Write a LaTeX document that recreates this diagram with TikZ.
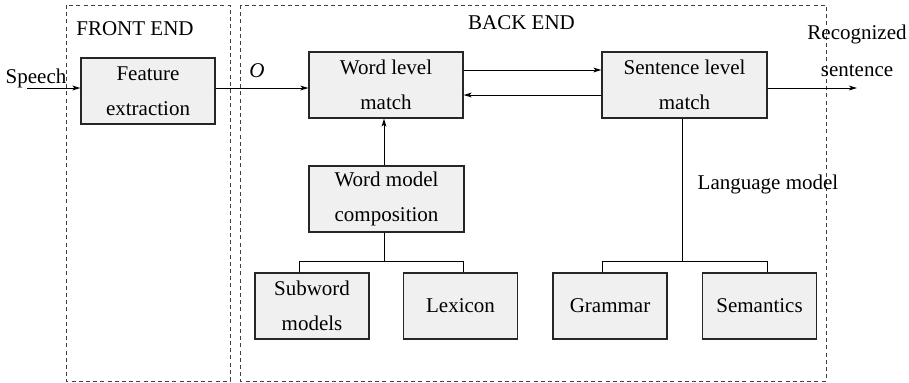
\documentclass[tikz,border=0pt]{standalone}
\usepackage{fontspec}
\setmainfont{Liberation Serif}
\usepackage{tikz}
\usetikzlibrary{arrows.meta}
\definecolor{boxgray}{gray}{0.94}
\tikzset{
  blk/.style={draw=black!85, line width=0.6pt, fill=boxgray, inner sep=0pt, align=center,
    font=\fontsize{10.5}{17.75}\selectfont, minimum height=33pt},
  lbl/.style={inner sep=0pt, anchor=base, font=\fontsize{10.5}{18.5}\selectfont},
  conn/.style={line width=0.5pt},
  arr/.style={conn, -{Stealth[length=4pt,width=2.4pt,inset=1pt]}},
  part/.style={draw=black!75, line width=0.5pt, dash pattern=on 2pt off 1.6pt},
}
\begin{document}
\begin{tikzpicture}[x=0.5pt,y=0.5pt,yscale=-1,xscale=1]
\useasboundingbox (0,0) rectangle (909,382);
\draw[part] (66,5) rectangle (230,381);
\draw[part] (240,5) rectangle (826,381);
\node[lbl] (fe) at (135,35) {FRONT END};
\node[lbl] (be) at (521.5,29) {BACK END};
\node[blk, minimum width=67pt] (feat) at (148,91) {Feature\\extraction};
\node[blk, minimum width=77pt] (wlm) at (386,85) {Word level\\match};
\node[blk, minimum width=82.5pt] (slm) at (684.5,85) {Sentence level\\match};
\node[blk, minimum width=77.5pt] (wmc) at (386.5,199) {Word model\\composition};
\node[blk, minimum width=57pt] (sub) at (312,306) {Subword\\models};
\node[blk, minimum width=57pt] (lex) at (460.5,306) {Lexicon};
\node[blk, minimum width=57pt] (gra) at (610,306) {Grammar};
\node[blk, minimum width=57pt] (sem) at (759.5,306) {Semantics};
\node[lbl] (sp) at (36,83) {Speech};
\node[lbl] (obs) at (257,77) {\textit{O}};
\node[lbl, anchor=center, align=center] (rs) at (857,51) {Recognized\\sentence};
\node[lbl] (lm) at (768,189) {Language model};
\coordinate (in) at (27,88);
\coordinate (out) at (857,88);
\coordinate (sig) at (0,88);
\coordinate (fwd) at (0,70);
\coordinate (bwd) at (0,95);
\coordinate (br) at (0,261);
\coordinate (wx) at (384,0);
\coordinate (lx) at (682,0);
\coordinate (s1) at (299,0);
\coordinate (s2) at (463,0);
\coordinate (g1) at (602,0);
\coordinate (g2) at (767,0);
\draw[arr] (in) -- (feat.west |- in);
\draw[arr] (feat.east |- sig) -- (wlm.west |- sig);
\draw[arr] (wlm.east |- fwd) -- (slm.west |- fwd);
\draw[arr] (slm.west |- bwd) -- (wlm.east |- bwd);
\draw[arr] (slm.east |- sig) -- (out);
\draw[arr] (wmc.north -| wx) -- (wlm.south -| wx);
\draw[conn] (wmc.south -| wx) -- (wx |- br);
\draw[conn] (sub.north -| s1) -- (s1 |- br) -- (s2 |- br) -- (lex.north -| s2);
\draw[conn] (slm.south -| lx) -- (lx |- br);
\draw[conn] (gra.north -| g1) -- (g1 |- br) -- (g2 |- br) -- (sem.north -| g2);
\end{tikzpicture}
\end{document}
